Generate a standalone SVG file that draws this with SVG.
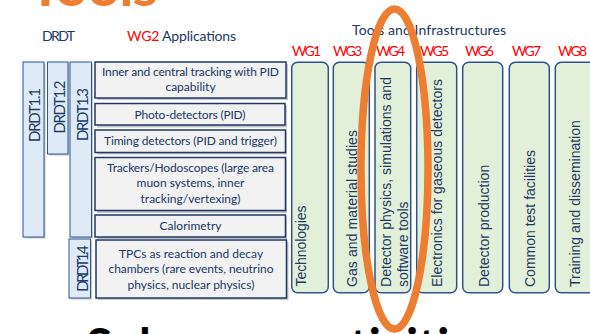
<svg xmlns="http://www.w3.org/2000/svg" width="590" height="334" viewBox="0 0 590 334">
<style>
.hd{font-family:Lato,"Liberation Sans",sans-serif;font-size:14px;fill:#203864}
.red{fill:#FF0000}
.wgl{font-family:Lato,"Liberation Sans",sans-serif;font-size:14px;fill:#FF0000}
.app{fill:#F2F2F2;stroke:#203864;stroke-width:1.5}
.sh{fill:#7F7F7F;opacity:0.45}
.bar{fill:#DEEBF7;stroke:#2F5597;stroke-width:1}
.wg{fill:#E2F0D9;stroke:#2F528F;stroke-width:1.5}
.at{font-family:Lato,"Liberation Sans",sans-serif;font-size:12px;fill:#203864;text-anchor:middle}
.bt{font-family:Lato,"Liberation Sans",sans-serif;font-size:15px;fill:#203864;text-anchor:middle}
.rt{font-family:"Liberation Sans",Arial,sans-serif;font-size:14px;fill:#1F3864}
</style>
<rect width="590" height="334" fill="#FFFFFF"/>
<text x="28" y="6" font-family="Lato,'Liberation Sans',sans-serif" font-weight="bold" font-size="58" fill="#ED7D31" textLength="130">Tools</text>
<text x="86" y="363" font-family="Lato,'Liberation Sans',sans-serif" font-weight="bold" font-size="48" fill="#000000">Subgroup activities</text>

<g id="headers">
<text class="hd" x="42" y="40.5" textLength="33">DRDT</text>
<text class="hd" x="127" y="40.5" textLength="109"><tspan class="red">WG2</tspan> Applications</text>
<text class="hd" x="352" y="35" textLength="154" font-size="13.5">Tools and Infrastructures</text>
</g>

<g id="drdt-bars">
<g id="drdt11"><rect class="sh" x="24.5" y="63.5" width="21" height="175"/><rect class="bar" x="23" y="62" width="21" height="175"/><text class="bt" transform="translate(39.5,115) rotate(-90)" textLength="54">DRDT1.1</text></g>
<g id="drdt12"><rect class="sh" x="49" y="63.5" width="20.5" height="92"/><rect class="bar" x="47.5" y="62" width="20.5" height="92"/><text class="bt" transform="translate(64.5,107) rotate(-90)" textLength="53">DRDT1.2</text></g>
<g id="drdt13"><rect class="sh" x="71.5" y="63.5" width="21.5" height="175"/><rect class="bar" x="70" y="62" width="21.5" height="175"/><text class="bt" transform="translate(88,114.5) rotate(-90)" textLength="53">DRDT1.3</text></g>
<g id="drdt14"><rect class="sh" x="70.5" y="240.5" width="21.5" height="59"/><rect class="bar" x="69" y="239" width="21.5" height="59"/><text class="bt" transform="translate(88,268.5) rotate(-90)" textLength="46.5">DRDT1.4</text></g>
</g>

<g id="applications">
<g id="app1"><rect class="sh" x="97" y="64" width="191" height="36"/><rect class="app" x="95" y="62" width="191" height="36"/><text class="at" x="190.5" y="76" textLength="177">Inner and central tracking with PID</text><text class="at" x="190.5" y="90.5">capability</text></g>
<g id="app2"><rect class="sh" x="97" y="105.5" width="190" height="22"/><rect class="app" x="95" y="103.5" width="190" height="21.5"/><text class="at" x="190" y="118.5" textLength="111">Photo-detectors (PID)</text></g>
<g id="app3"><rect class="sh" x="97" y="132" width="190" height="22.5"/><rect class="app" x="95" y="130" width="190.5" height="22.5"/><text class="at" x="190.5" y="145" textLength="173">Timing detectors (PID and trigger)</text></g>
<g id="app4"><rect class="sh" x="97" y="159.5" width="190" height="53.5"/><rect class="app" x="95" y="157.5" width="190.5" height="53"/><text class="at" x="190.5" y="171.5" textLength="167">Trackers/Hodoscopes (large area</text><text class="at" x="190.5" y="187">muon systems, inner</text><text class="at" x="190.5" y="202.5">tracking/vertexing)</text></g>
<g id="app5"><rect class="sh" x="97" y="217" width="190" height="22"/><rect class="app" x="95" y="215" width="190.5" height="22"/><text class="at" x="190.5" y="230">Calorimetry</text></g>
<g id="app6"><rect class="sh" x="98" y="242" width="190.5" height="58"/><rect class="app" x="96" y="240" width="190.5" height="58"/><text class="at" x="191" y="257.5">TPCs as reaction and decay</text><text class="at" x="191" y="273" textLength="165">chambers (rare events, neutrino</text><text class="at" x="191" y="288.5">physics, nuclear physics)</text></g>
</g>

<g id="wg-labels">
<text class="wgl" x="292" y="56" textLength="29">WG1</text>
<text class="wgl" x="333" y="56" textLength="29">WG3</text>
<text class="wgl" x="376" y="56" textLength="29">WG4</text>
<text class="wgl" x="420" y="56" textLength="29">WG5</text>
<text class="wgl" x="465" y="56" textLength="29">WG6</text>
<text class="wgl" x="512" y="56" textLength="29">WG7</text>
<text class="wgl" x="558" y="56" textLength="29">WG8</text>
</g>

<g id="tools">
<g id="wg1"><rect class="wg" x="291.7" y="62.3" width="36.6" height="230.5" rx="6"/><text class="rt" transform="translate(305.5,286.5) rotate(-90)" textLength="81">Technologies</text></g>
<g id="wg3"><rect class="wg" x="333.3" y="62.3" width="36" height="230.5" rx="6"/><text class="rt" transform="translate(357,287) rotate(-90)" textLength="157">Gas and material studies</text></g>
<g id="wg4"><rect class="wg" x="375" y="62.3" width="35.7" height="230.5" rx="6"/><text class="rt" transform="translate(390.5,287) rotate(-90)" textLength="210">Detector physics, simulations and</text><text class="rt" transform="translate(408,287) rotate(-90)" textLength="85.5">software tools</text></g>
<g id="wg5"><rect class="wg" x="416.7" y="62.3" width="40" height="230.5" rx="6"/><text class="rt" transform="translate(441.7,287) rotate(-90)" textLength="208">Electronics for gaseous detectors</text></g>
<g id="wg6"><rect class="wg" x="462.7" y="62.3" width="40" height="230.5" rx="6"/><text class="rt" transform="translate(488.5,287) rotate(-90)">Detector production</text></g>
<g id="wg7"><rect class="wg" x="509.3" y="62.3" width="40" height="230.5" rx="6"/><text class="rt" transform="translate(534.5,287) rotate(-90)">Common test facilities</text></g>
<g id="wg8"><rect class="wg" x="555.3" y="62.3" width="44" height="230.5" rx="6"/><text class="rt" transform="translate(580,287) rotate(-90)">Training and dissemination</text></g>
</g>

<g id="connectors"></g>

<ellipse id="highlight" cx="394.5" cy="169" rx="33.5" ry="160" fill="none" stroke="#ED7D31" stroke-width="7.5"/>
</svg>
